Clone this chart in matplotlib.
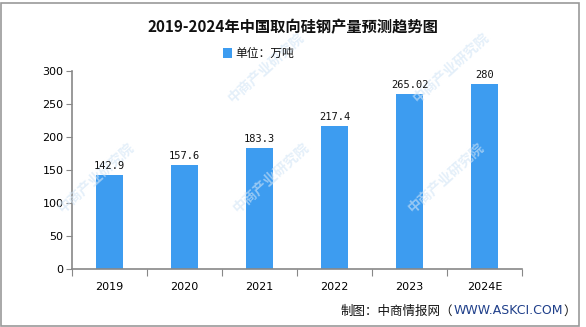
import matplotlib.pyplot as plt
from matplotlib.patches import Rectangle

plt.rcParams['font.family'] = ['Noto Sans CJK SC', 'DejaVu Sans']

years = ['2019', '2020', '2021', '2022', '2023', '2024E']
output = [142.9, 157.6, 183.3, 217.4, 265.02, 280]
value_labels = ['142.9', '157.6', '183.3', '217.4', '265.02', '280']
yticks = [0, 50, 100, 150, 200, 250, 300]

W, H = 586, 327
fig = plt.figure(figsize=(W / 100, H / 100), dpi=100)

# outer frame
fig.patches.append(Rectangle((1 / W, 1 / H), 578 / W, 323 / H, transform=fig.transFigure,
                             fill=False, edgecolor='#9a9a9a', linewidth=1.2))

ax = fig.add_axes([72 / W, 1 - 269 / H, 450 / W, 198 / H])
ax.patch.set_alpha(0)
x = range(len(years))
ax.bar(x, output, width=0.37, color='#3d9cf0', zorder=2)
for i, (v, lab) in enumerate(zip(output, value_labels)):
    ax.text(i, v + 6, lab, ha='center', va='bottom', fontsize=7.5,
            family='DejaVu Sans Mono', color='#111111', zorder=4)

ax.set_xlim(-0.5, len(years) - 0.5)
ax.set_ylim(0, 300)
ax.set_yticks(yticks)
ax.set_yticklabels([str(t) for t in yticks], fontsize=8, family='DejaVu Sans')
ax.set_xticks([i - 0.5 for i in range(len(years) + 1)], minor=False)
ax.set_xticklabels([])
ax.set_xticks(list(x), minor=True)
ax.set_xticklabels(years, minor=True, fontsize=8, family='DejaVu Sans')
ax.tick_params(axis='x', which='minor', length=0, pad=9)
ax.tick_params(axis='x', which='major', length=5, color='#888888')
ax.tick_params(axis='y', length=4, color='#888888', pad=2)
for side in ['top', 'right']:
    ax.spines[side].set_visible(False)
for side in ['left', 'bottom']:
    ax.spines[side].set_color('#888888')
    ax.spines[side].set_linewidth(1.2)

# faint diagonal watermark text, above the bars but under the value labels
wm_spots = [(235, 105), (420, 105), (65, 215), (240, 215), (415, 215)]
for px, py in wm_spots:
    ax.text(px / W, 1 - py / H, '中商产业研究院', transform=fig.transFigure, rotation=42,
            fontsize=10, fontweight='bold', color='#d2e5f6', alpha=0.6, ha='left',
            va='bottom', rotation_mode='anchor', zorder=3, clip_on=False)

fig.text(0.5, 1 - 27 / H, '2019-2024年中国取向硅钢产量预测趋势图', ha='center', va='center',
         fontsize=11, fontweight='bold', color='#111111')
fig.patches.append(Rectangle((223 / W, 1 - 58 / H), 9 / W, 10 / H, transform=fig.transFigure,
                             facecolor='#3d9cf0', edgecolor='none'))
fig.text(235 / W, 1 - 53 / H, '单位：万吨', ha='left', va='center', fontsize=8.5, color='#111111')

# footer: chain the three parts so they sit side by side
renderer = fig.canvas.get_renderer()
fy = 1 - 311 / H
parts = [('制图：中商情报网（', '#111111', None),
         ('WWW.ASKCI.COM', '#1f3f8a', 'DejaVu Sans'),
         ('）', '#111111', None)]
cur = 341 / W
for txt, col, fam in parts:
    kw = {'family': fam} if fam else {}
    t = fig.text(cur, fy, txt, ha='left', va='center', fontsize=9, color=col, **kw)
    bb = t.get_window_extent(renderer=renderer)
    cur += bb.width / W

fig.savefig('out.png', dpi=100)
